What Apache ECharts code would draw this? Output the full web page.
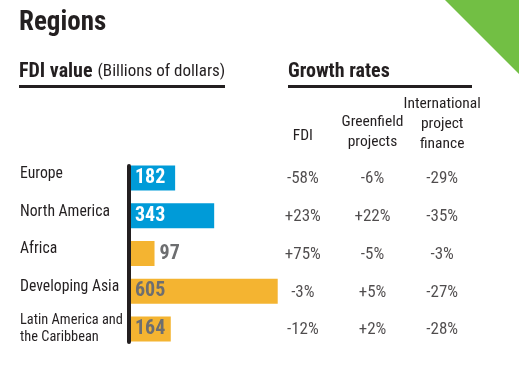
<!DOCTYPE html>
<html>
<head>
<meta charset="utf-8">
<script src="https://cdn.jsdelivr.net/npm/echarts@6/dist/echarts.min.js"></script>
<style>
html,body{margin:0;padding:0;background:#fff;}
#chart{width:519px;height:367px;}
</style>
</head>
<body>
<div id="chart"></div>
<script>
// ---- data ----
var regions = ['Europe', 'North America', 'Africa', 'Developing Asia', 'Latin America and\nthe Caribbean'];
var regionGroup = ['developed', 'developed', 'developing', 'developing', 'developing'];
var fdiValue = [182, 343, 97, 605, 164];
var growthHeaders = ['FDI', 'Greenfield\nprojects', 'International\nproject\nfinance'];
var fdiGrowth = [-58, 23, 75, -3, -12];
var greenfieldGrowth = [-6, 22, -5, 5, 2];
var projectFinanceGrowth = [-29, -35, -3, -27, -28];

// ---- styling ----
var FONT = "'Liberation Sans Narrow', 'Arial Narrow', 'Roboto Condensed', 'DejaVu Sans Condensed', sans-serif";
var BLUE = '#009bd8';
var ORANGE = '#f4b431';
var DARK = '#231f20';
var GREY = '#6d6e70';

var barData = fdiValue.map(function (v, i) {
  var dev = regionGroup[i] === 'developed';
  var outside = v < 120;
  return {
    value: v,
    itemStyle: { color: dev ? BLUE : ORANGE },
    label: {
      position: outside ? 'right' : 'insideLeft',
      distance: outside ? 5 : 4,
      color: dev ? '#ffffff' : GREY
    }
  };
});

var growthCols = [fdiGrowth, greenfieldGrowth, projectFinanceGrowth];
var tableData = [];
growthCols.forEach(function (col, c) {
  col.forEach(function (v, r) {
    tableData.push([c, r, v]);
  });
});
function fmtPct(v) { return (v > 0 ? '+' : '') + v + '%'; }

var rowTop = 160, rowHeight = 189;
var hdrStyles = ['h0', 'h1', 'h2'];

var option = {
  backgroundColor: '#ffffff',
  animation: false,
  title: [
    { text: 'Regions', left: 14, top: 5,
      textStyle: { fontFamily: FONT, fontSize: 27, fontWeight: 'bold', color: DARK } },
    { text: '{b|FDI value} {n|(Billions of dollars)}', left: 14, top: 57,
      textStyle: { rich: {
        b: { fontFamily: FONT, fontSize: 20, fontWeight: 'bold', color: DARK },
        n: { fontFamily: FONT, fontSize: 17, fontWeight: 'normal', color: DARK } } } },
    { text: 'Growth rates', left: 283, top: 57,
      textStyle: { fontFamily: FONT, fontSize: 20, fontWeight: 'bold', color: DARK } }
  ],
  graphic: [
    { type: 'polygon', shape: { points: [[445, 0], [519, 0], [519, 74]] }, style: { fill: '#72bf44' } },
    { type: 'rect', shape: { x: 19, y: 85, width: 206, height: 3 }, style: { fill: DARK } },
    { type: 'rect', shape: { x: 288, y: 85, width: 184, height: 3 }, style: { fill: DARK } }
  ],
  grid: [
    { left: 131, top: 159, width: 150, height: rowHeight },
    { left: 268, top: rowTop, width: 209, height: rowHeight },
    { left: 129, top: 166, width: 1, height: 176 }
  ],
  xAxis: [
    { type: 'value', gridIndex: 0, min: 0, max: 150 / 0.2425, show: false },
    { type: 'category', gridIndex: 1, data: growthHeaders, position: 'top',
      axisLine: { show: false }, axisTick: { show: false },
      axisLabel: { margin: 5, interval: 0,
        formatter: function (v, i) { return '{' + hdrStyles[i] + '|' + v + '}'; },
        rich: {
          h0: { fontFamily: FONT, fontSize: 15.5, lineHeight: 20, color: DARK, padding: [0, 0, 17, 0] },
          h1: { fontFamily: FONT, fontSize: 15.5, lineHeight: 20, color: DARK, padding: [0, 0, 6, 0] },
          h2: { fontFamily: FONT, fontSize: 15.5, lineHeight: 20, color: DARK, padding: [0, 0, 1, 0] }
        } } },
    { type: 'value', gridIndex: 2, show: false }
  ],
  yAxis: [
    { type: 'category', gridIndex: 0, data: regions, inverse: true,
      axisLine: { show: false }, axisTick: { show: false },
      axisLabel: { align: 'left', margin: 111, interval: 0,
        formatter: function (v) { return v.indexOf('\n') >= 0 ? '{m|' + v + '}' : '{s|' + v + '}'; },
        rich: {
          s: { fontFamily: FONT, fontSize: 15.7, color: DARK, padding: [0, 0, 8, 0] },
          m: { fontFamily: FONT, fontSize: 14.4, lineHeight: 17, color: DARK, padding: [0, 0, 0, 0] }
        } } },
    { type: 'category', gridIndex: 1, data: regions, inverse: true, show: false },
    { type: 'category', gridIndex: 2, data: regions, inverse: true,
      axisLine: { show: true, lineStyle: { color: DARK, width: 4 } },
      axisTick: { show: false }, axisLabel: { show: false } }
  ],
  series: [
    { type: 'bar', xAxisIndex: 0, yAxisIndex: 0, data: barData, barWidth: 25,
      label: { show: true, fontFamily: FONT, fontSize: 20, fontWeight: 'bold' } },
    { type: 'scatter', xAxisIndex: 1, yAxisIndex: 1, data: tableData, symbolSize: 0,
      label: { show: true, position: 'inside', fontFamily: FONT, fontSize: 17, color: DARK,
        formatter: function (p) { return fmtPct(p.value[2]); } } }
  ]
};

var chart = echarts.init(document.getElementById('chart'), null, { renderer: 'canvas' });
chart.setOption(option);
</script>
</body>
</html>
